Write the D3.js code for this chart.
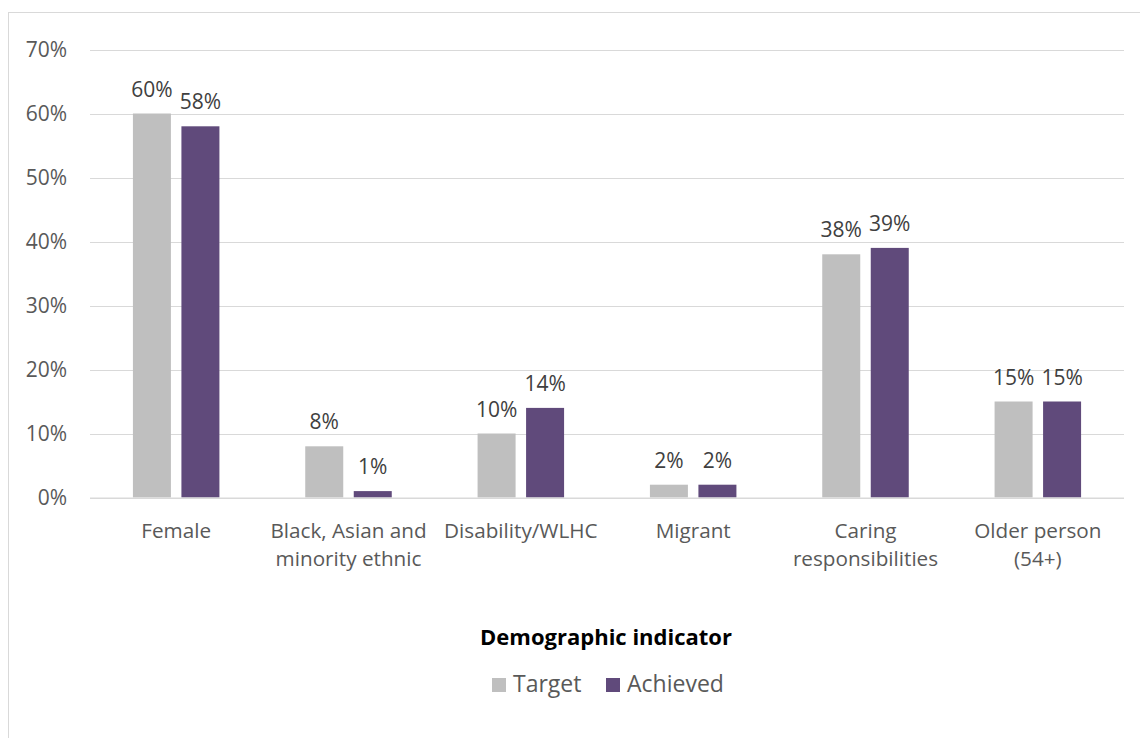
<!DOCTYPE html>
<html><head><meta charset="utf-8">
<script src="https://cdn.jsdelivr.net/npm/d3@7"></script>
<style>body{margin:0;background:#fff}svg{display:block}text{font-family:"Open Sans",Lato,sans-serif}</style>
</head><body>
<svg id="c" width="1140" height="738"></svg>
<script>
const categories = [["Female"],["Black, Asian and","minority ethnic"],["Disability/WLHC"],["Migrant"],["Caring","responsibilities"],["Older person","(54+)"]];
const seriesNames = ["Target","Achieved"];
const target = [60,8,10,2,38,15];
const achieved = [58,1,14,2,39,15];
const yTicks = [0,10,20,30,40,50,60,70];
const colors = ["#BFBFBF","#604A7B"];
const axisTitle = "Demographic indicator";

(function(){
const svg = d3.select("#c");
svg.append("rect").attr("x",8.5).attr("y",12.5).attr("width",1200).attr("height",800)
  .attr("fill","none").attr("stroke","#d9d9d9").attr("stroke-width",1);

const pL=90, pR=1124, pT=49.5, pB=497.5;
const y = d3.scaleLinear().domain([0,70]).range([pB,pT]);
const x0 = d3.scaleBand().domain(d3.range(categories.length)).range([pL,pR]);
const bw = 38, gap = 10.5;
const x1 = d3.scaleOrdinal().domain([0,1]).range([-(bw+gap)/2 - bw/2, (bw+gap)/2 - bw/2]);

svg.append("g").selectAll("line").data(yTicks).join("line")
  .attr("x1",pL).attr("x2",pR).attr("y1",d=>Math.round(y(d))+0.5).attr("y2",d=>Math.round(y(d))+0.5)
  .attr("stroke","#d9d9d9").attr("stroke-width",1.2);
svg.append("g").selectAll("text").data(yTicks).join("text")
  .attr("x",67).attr("y",d=>y(d)).attr("dy","0.36em").attr("text-anchor","end")
  .attr("font-size",21).attr("fill","#595959").text(d=>d+"%");

const data = [target, achieved];
const g = svg.append("g");
data.forEach((vals,si)=>{
  g.selectAll(".b"+si).data(vals).join("rect").attr("class","b"+si)
    .attr("x",(d,i)=>x0(i)+x0.bandwidth()/2+x1(si))
    .attr("y",d=>y(d)).attr("width",bw).attr("height",d=>pB-y(d))
    .attr("fill",colors[si]);
  g.selectAll(".l"+si).data(vals).join("text").attr("class","l"+si)
    .attr("x",(d,i)=>x0(i)+x0.bandwidth()/2+x1(si)+bw/2)
    .attr("y",d=>y(d)-17).attr("text-anchor","middle")
    .attr("font-size",21).attr("fill","#404040").text(d=>d+"%");
});
svg.append("line").attr("x1",pL).attr("x2",pR).attr("y1",pB+0.5).attr("y2",pB+0.5)
  .attr("stroke","#d9d9d9").attr("stroke-width",1.2);

const cl = svg.append("g").selectAll("text").data(categories).join("text")
  .attr("x",(d,i)=>x0(i)+x0.bandwidth()/2).attr("y",538).attr("text-anchor","middle")
  .attr("font-size",20.7).attr("fill","#595959");
cl.selectAll("tspan").data(d=>d).join("tspan")
  .attr("x",function(){return this.parentNode.getAttribute("x");})
  .attr("dy",(d,i)=>i?28:0).text(d=>d);

svg.append("text").attr("x",606).attr("y",645).attr("text-anchor","middle")
  .attr("font-size",22).attr("font-weight","bold").attr("fill","#000").text(axisTitle);

const leg = svg.append("g");
const legX = [492, 606];
seriesNames.forEach((n,i)=>{
  leg.append("rect").attr("x",legX[i]).attr("y",678).attr("width",14).attr("height",14).attr("fill",colors[i]);
  leg.append("text").attr("x",legX[i]+21).attr("y",692)
    .attr("font-size",23).attr("fill","#595959").text(n);
});
})();
</script>
</body></html>
